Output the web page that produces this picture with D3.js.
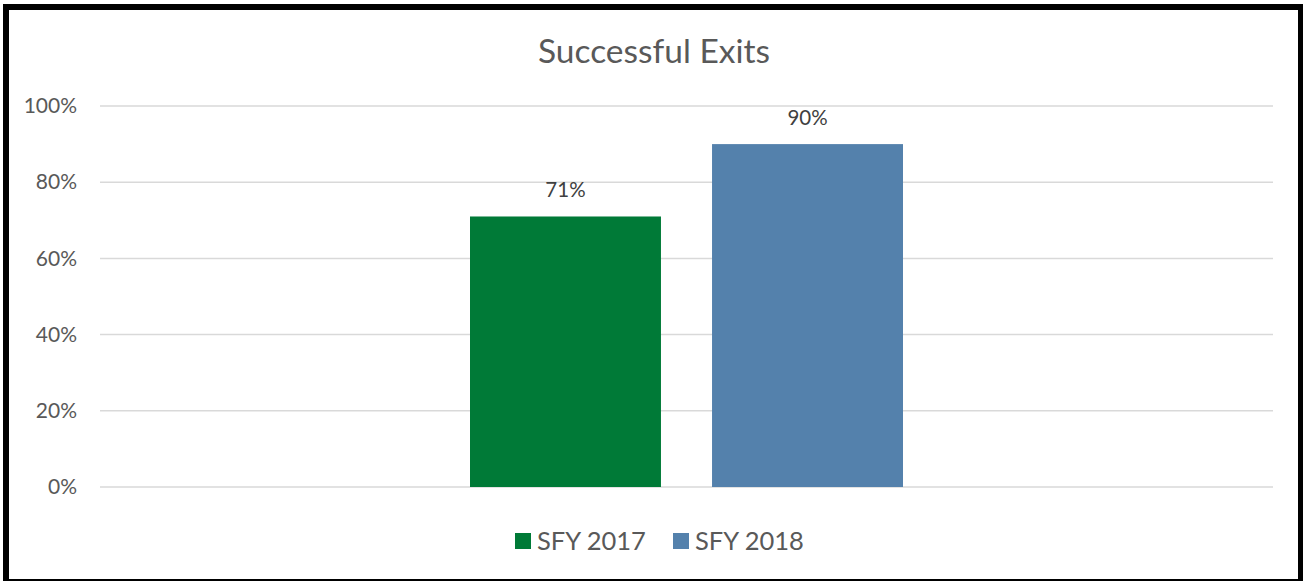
<!DOCTYPE html>
<html>
<head>
<meta charset="utf-8">
<script src="https://cdn.jsdelivr.net/npm/d3@7"></script>
<style>
  body { margin: 0; background: #fff; }
  svg { display: block; font-family: Lato, "Open Sans", sans-serif; }
</style>
</head>
<body>
<svg id="chart"></svg>
<script>
const title = "Successful Exits";
const categories = [""];
const seriesNames = ["SFY 2017", "SFY 2018"];
const seriesValues = [0.71, 0.90];
const seriesColors = ["#007a37", "#5481ac"];
const yTicks = [0, 0.2, 0.4, 0.6, 0.8, 1.0];

const width = 1303;
const height = 582;
const margin = { top: 106, right: 30, bottom: 95, left: 100 };

const svg = d3.select("#chart").attr("width", width).attr("height", height);

svg.append("rect").attr("width", width).attr("height", height).attr("fill", "#fff");

// frame, heavier on the top and left like the original
svg.append("rect").attr("x", 3).attr("y", 4).attr("width", 6).attr("height", 577).attr("fill", "#000");
svg.append("rect").attr("x", 3).attr("y", 4).attr("width", 1300).attr("height", 6).attr("fill", "#000");
svg.append("rect").attr("x", 1298).attr("y", 4).attr("width", 5).attr("height", 577).attr("fill", "#000");
svg.append("rect").attr("x", 3).attr("y", 579).attr("width", 1300).attr("height", 2).attr("fill", "#000");

const y = d3.scaleLinear().domain([0, 1]).range([height - margin.bottom, margin.top]);

const x0 = d3
  .scaleBand()
  .domain(categories)
  .range([margin.left, width - margin.right])
  .paddingOuter(0.8545);

const x1 = d3
  .scaleBand()
  .domain(seriesNames)
  .range([0, x0.bandwidth()])
  .paddingInner(0.211);

// gridlines
svg
  .append("g")
  .selectAll("line")
  .data(yTicks)
  .join("line")
  .attr("x1", margin.left)
  .attr("x2", width - margin.right)
  .attr("y1", (d) => y(d))
  .attr("y2", (d) => y(d))
  .attr("stroke", "#d9d9d9")
  .attr("stroke-width", 1.5);

// y axis labels
const yAxis = d3
  .axisLeft(y)
  .tickValues(yTicks)
  .tickFormat(d3.format(".0%"))
  .tickSize(0)
  .tickPadding(0);
const yAxisG = svg
  .append("g")
  .attr("transform", `translate(77,0)`)
  .call(yAxis);
yAxisG.select(".domain").remove();
yAxisG
  .selectAll("text")
  .attr("fill", "#595959")
  .attr("font-size", 21)
  .attr("font-family", "Lato, sans-serif");

// bars
const bars = seriesNames.map((name, i) => ({
  name,
  value: seriesValues[i],
  color: seriesColors[i],
  category: categories[0],
}));

svg
  .append("g")
  .selectAll("rect")
  .data(bars)
  .join("rect")
  .attr("x", (d) => x0(d.category) + x1(d.name))
  .attr("y", (d) => y(d.value))
  .attr("width", x1.bandwidth())
  .attr("height", (d) => y(0) - y(d.value))
  .attr("fill", (d) => d.color);

// data labels
svg
  .append("g")
  .selectAll("text")
  .data(bars)
  .join("text")
  .attr("x", (d) => x0(d.category) + x1(d.name) + x1.bandwidth() / 2)
  .attr("y", (d) => y(d.value) - 19)
  .attr("text-anchor", "middle")
  .attr("fill", "#404040")
  .attr("font-size", 20.5)
  .text((d) => d3.format(".0%")(d.value));

// title
svg
  .append("text")
  .attr("x", 654)
  .attr("y", 63)
  .attr("text-anchor", "middle")
  .attr("fill", "#595959")
  .attr("font-size", 33.5)
  .text(title);

// legend
const legendItems = [
  { name: seriesNames[0], color: seriesColors[0], x: 515 },
  { name: seriesNames[1], color: seriesColors[1], x: 673 },
];
const legend = svg
  .append("g")
  .selectAll("g")
  .data(legendItems)
  .join("g")
  .attr("transform", (d) => `translate(${d.x},533)`);
legend
  .append("rect")
  .attr("width", 16)
  .attr("height", 16)
  .attr("fill", (d) => d.color);
legend
  .append("text")
  .attr("x", 22)
  .attr("y", 17)
  .attr("fill", "#595959")
  .attr("font-size", 25.5)
  .text((d) => d.name);
</script>
</body>
</html>
